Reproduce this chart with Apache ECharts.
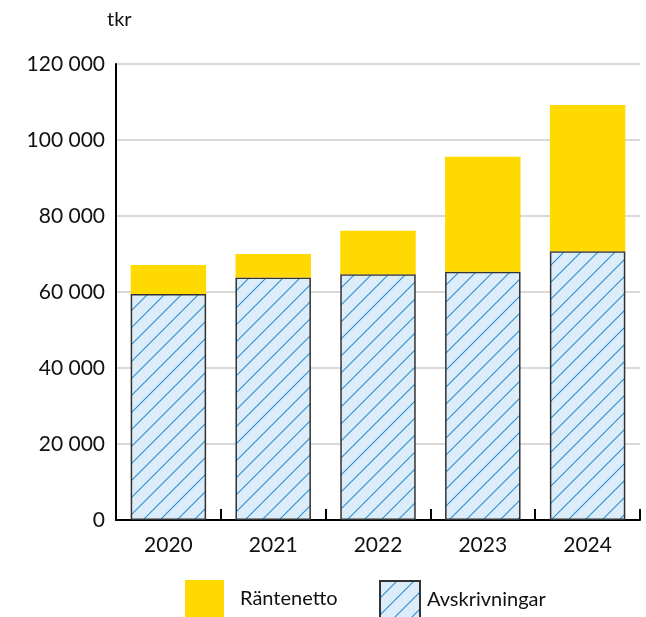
<!DOCTYPE html>
<html>
<head>
<meta charset="utf-8">
<script src="https://cdn.jsdelivr.net/npm/echarts@6/dist/echarts.min.js"></script>
<style>
html,body{margin:0;padding:0;background:#fff;}
#c{width:646px;height:617px;}
</style>
</head>
<body>
<div id="c"></div>
<script>
const categories = ['2020', '2021', '2022', '2023', '2024'];
const avskrivningar = [59500, 63800, 64700, 65300, 70700];
const rantenetto = [7600, 6200, 11400, 30300, 38500];
const yTicks = [0, 20000, 40000, 60000, 80000, 100000, 120000];

function makeHatch() {
  const s = 17;
  const cv = document.createElement('canvas');
  cv.width = s; cv.height = s;
  const ctx = cv.getContext('2d');
  ctx.fillStyle = '#dcedf9';
  ctx.fillRect(0, 0, s, s);
  ctx.strokeStyle = '#2b8fd1';
  ctx.lineWidth = 1.1;
  ctx.beginPath();
  ctx.moveTo(-1, s + 1); ctx.lineTo(s + 1, -1);
  ctx.moveTo(-1, 1); ctx.lineTo(1, -1);
  ctx.moveTo(s - 1, s + 1); ctx.lineTo(s + 1, s - 1);
  ctx.stroke();
  return cv;
}
const hatch = { image: makeHatch(), repeat: 'repeat' };

const FONT = 'Lato';
const chart = echarts.init(document.getElementById('c'), null, { renderer: 'canvas' });
chart.setOption({
  animation: false,
  textStyle: { fontFamily: FONT, color: '#111' },
  grid: { left: 116, right: 6, top: 64, bottom: 97, containLabel: false },
  graphic: [{
    type: 'text', left: 107, top: 10,
    style: { text: 'tkr', font: '20px ' + FONT, fill: '#111' }
  }],
  legend: [{
    left: 185, top: 580, padding: 0, itemWidth: 39, itemHeight: 37, icon: 'rect',
    data: ['Räntenetto'],
    textStyle: { fontSize: 20, fontFamily: FONT, color: '#111', padding: [0, 0, 0, 11] }
  }, {
    left: 379, top: 580, padding: 0, itemWidth: 40, itemHeight: 37, icon: 'rect',
    data: ['Avskrivningar'],
    textStyle: { fontSize: 20, fontFamily: FONT, color: '#111', padding: [0, 0, 0, 2] }
  }],
  xAxis: {
    type: 'category', data: categories,
    axisLine: { lineStyle: { color: '#000', width: 2 } },
    axisTick: { show: true, inside: true, length: 11, lineStyle: { color: '#000', width: 2 } },
    axisLabel: { fontSize: 21, color: '#111', margin: 15, fontFamily: FONT }
  },
  yAxis: {
    type: 'value', min: 0, max: 120000, interval: 20000,
    axisLine: { show: true, lineStyle: { color: '#000', width: 2 } },
    axisTick: { show: false },
    splitLine: { lineStyle: { color: '#cccccc', width: 1.5 } },
    axisLabel: {
      fontSize: 21, color: '#111', margin: 11, fontFamily: FONT,
      formatter: v => yTicks.includes(v) ? String(v).replace(/\B(?=(\d{3})+(?!\d))/g, ' ') : ''
    }
  },
  series: [{
    name: 'Avskrivningar', type: 'bar', stack: 't', data: avskrivningar,
    barCategoryGap: '28%',
    itemStyle: { color: hatch, borderColor: '#333', borderWidth: 1.5 }
  }, {
    name: 'Räntenetto', type: 'bar', stack: 't', data: rantenetto,
    barCategoryGap: '28%',
    itemStyle: { color: '#ffd900' }
  }]
});
</script>
</body>
</html>
